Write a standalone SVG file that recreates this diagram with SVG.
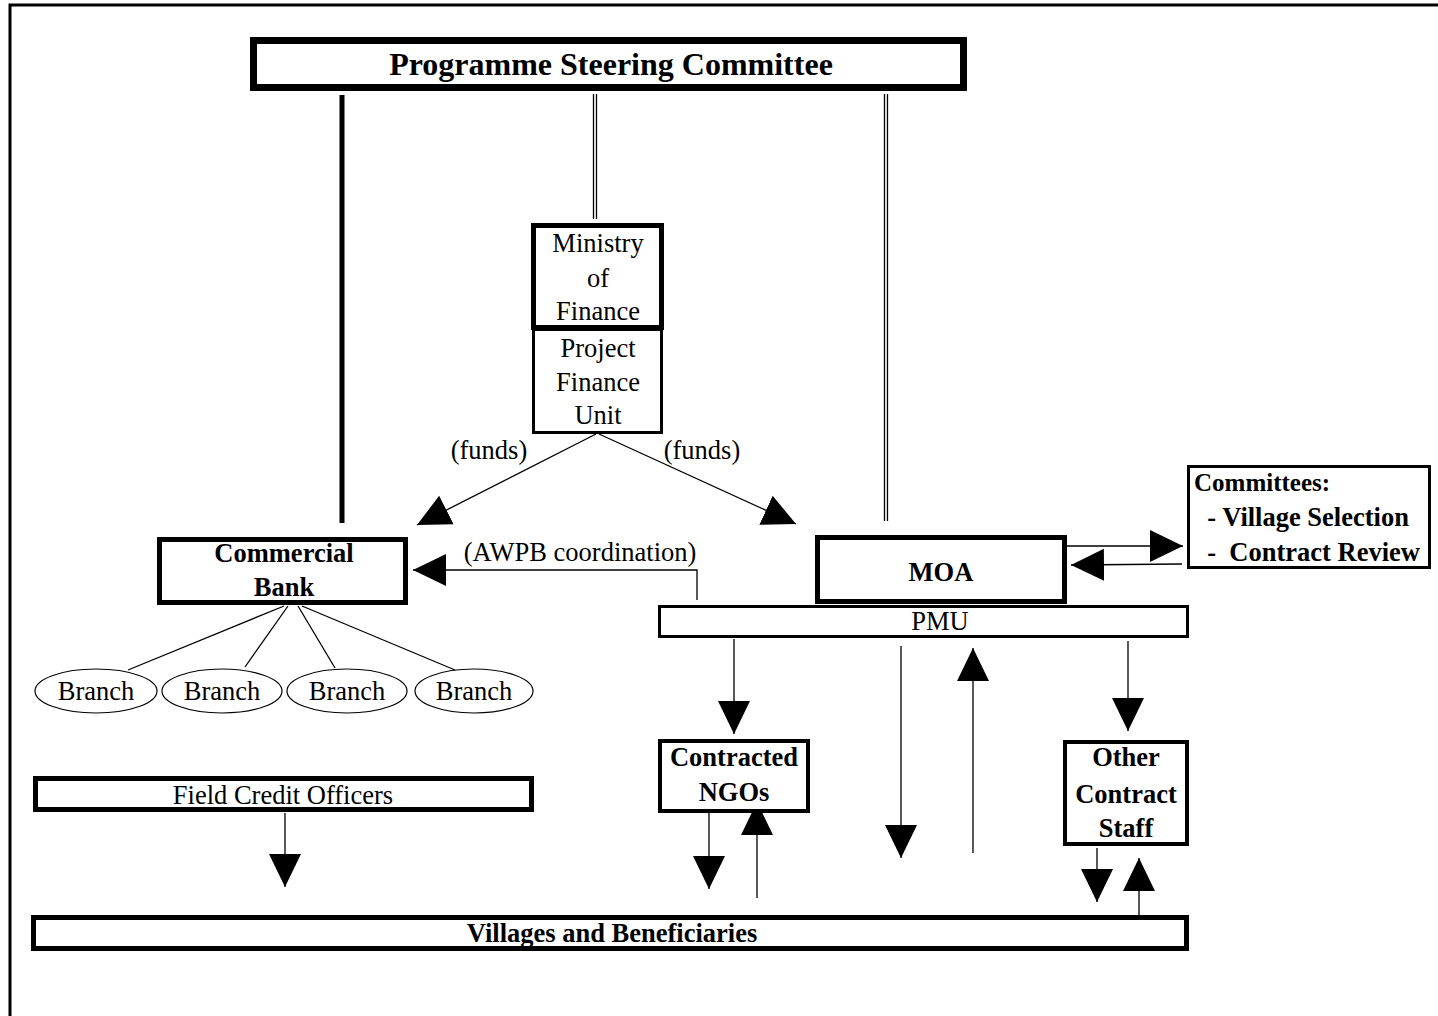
<svg xmlns="http://www.w3.org/2000/svg" width="1438" height="1016" viewBox="0 0 1438 1016">
<defs>
<style>
text{font-family:"Liberation Serif","Times New Roman",serif;fill:#000;font-size:26.5px}
.b{font-weight:bold}
.box{fill:#fff;stroke:#000}
.thick{stroke-width:5}
.med{stroke-width:3}
.ln{stroke:#000;stroke-width:1.3;fill:none}
.ar{stroke:#000;stroke-width:1.3;fill:none;marker-end:url(#ah)}
</style>
<marker id="ah" markerUnits="userSpaceOnUse" markerWidth="34" markerHeight="34" refX="33" refY="16" orient="auto" viewBox="0 0 34 32">
<path d="M0,0 L33,16 L0,32 z" fill="#000"/>
</marker>
</defs>
<rect width="1438" height="1016" fill="#fff"/>
<g id="frame"><path d="M10,1016 V5 H1438" fill="none" stroke="#000" stroke-width="3"/></g>

<g id="connectors">
<line x1="342" y1="95" x2="342" y2="523" stroke="#000" stroke-width="5"/>
<line x1="593.5" y1="94" x2="593.5" y2="219" class="ln" stroke-width="1"/>
<line x1="596.5" y1="94" x2="596.5" y2="219" class="ln" stroke-width="1"/>
<line x1="884.5" y1="94" x2="884.5" y2="521" class="ln" stroke-width="1"/>
<line x1="887.5" y1="94" x2="887.5" y2="521" class="ln" stroke-width="1"/>
<line x1="596" y1="434" x2="417" y2="525" class="ar"/>
<line x1="599" y1="434" x2="796" y2="524" class="ar"/>
<polyline points="697,600 697,570 413,570" class="ar"/>
<line x1="1066" y1="546" x2="1183" y2="546" class="ar"/>
<line x1="1182" y1="564" x2="1071" y2="565" class="ar"/>
<line x1="284" y1="606" x2="128" y2="670" class="ln"/>
<line x1="288" y1="606" x2="245" y2="667" class="ln"/>
<line x1="298" y1="606" x2="335" y2="668" class="ln"/>
<line x1="302" y1="606" x2="455" y2="670" class="ln"/>
<line x1="734" y1="639" x2="734" y2="734" class="ar"/>
<line x1="901" y1="646" x2="901" y2="858" class="ar"/>
<line x1="973" y1="853" x2="973" y2="648" class="ar"/>
<line x1="1128" y1="641" x2="1128" y2="731" class="ar"/>
<line x1="285" y1="813" x2="285" y2="887" class="ar"/>
<line x1="709" y1="813" x2="709" y2="889" class="ar"/>
<line x1="757" y1="898" x2="757" y2="802" class="ar"/>
<line x1="1097" y1="848" x2="1097" y2="902" class="ar"/>
<line x1="1139" y1="915" x2="1139" y2="858" class="ar"/>
</g>

<g id="psc">
<rect x="253.5" y="40.5" width="710" height="47" class="box" stroke-width="7"/>
<text x="611" y="75" style="font-size:32px" class="b" text-anchor="middle">Programme  Steering Committee</text>
</g>

<g id="mof">
<rect x="533.5" y="225.5" width="128" height="102" class="box thick"/>
<text x="598" y="252" text-anchor="middle">Ministry</text>
<text x="598" y="287" text-anchor="middle">of</text>
<text x="598" y="320" text-anchor="middle">Finance</text>
</g>

<g id="pfu">
<rect x="533.5" y="329.5" width="128" height="103" class="box med"/>
<text x="598" y="357" text-anchor="middle">Project</text>
<text x="598" y="391" text-anchor="middle">Finance</text>
<text x="598" y="424" text-anchor="middle">Unit</text>
</g>

<g id="labels">
<text x="489" y="459" text-anchor="middle">(funds)</text>
<text x="702" y="459" text-anchor="middle">(funds)</text>
<text x="580" y="561" text-anchor="middle">(AWPB coordination)</text>
</g>

<g id="bank">
<rect x="159.5" y="539.5" width="246" height="63" class="box thick"/>
<text x="284" y="562" class="b" text-anchor="middle">Commercial</text>
<text x="284" y="596" class="b" text-anchor="middle">Bank</text>
</g>

<g id="branch1"><ellipse cx="96" cy="691" rx="61" ry="22" class="box" stroke-width="1.2"/><text x="96" y="700" text-anchor="middle">Branch</text></g>
<g id="branch2"><ellipse cx="222" cy="691" rx="60" ry="22" class="box" stroke-width="1.2"/><text x="222" y="700" text-anchor="middle">Branch</text></g>
<g id="branch3"><ellipse cx="347" cy="691" rx="60" ry="22" class="box" stroke-width="1.2"/><text x="347" y="700" text-anchor="middle">Branch</text></g>
<g id="branch4"><ellipse cx="474" cy="691" rx="59" ry="22" class="box" stroke-width="1.2"/><text x="474" y="700" text-anchor="middle">Branch</text></g>

<g id="moa">
<rect x="817.5" y="537.5" width="247" height="64" class="box thick"/>
<text x="941" y="581" class="b" text-anchor="middle">MOA</text>
</g>

<g id="committees">
<rect x="1188.5" y="466.5" width="241" height="101" class="box med"/>
<text x="1194" y="491" style="font-size:25px" class="b">Committees:</text>
<text x="1194" y="526" class="b" xml:space="preserve">  - Village Selection</text>
<text x="1194" y="561" class="b" xml:space="preserve">  -  Contract Review</text>
</g>

<g id="pmu">
<rect x="659.5" y="606.5" width="528" height="30" class="box med"/>
<text x="940" y="630" text-anchor="middle">PMU</text>
</g>

<g id="ngos">
<rect x="660" y="741" width="148" height="70" class="box" stroke-width="4"/>
<text x="734" y="766" class="b" text-anchor="middle">Contracted</text>
<text x="734" y="801" class="b" text-anchor="middle">NGOs</text>
</g>

<g id="other">
<rect x="1065" y="742" width="122" height="102" class="box" stroke-width="4"/>
<text x="1126" y="766" class="b" text-anchor="middle">Other</text>
<text x="1126" y="803" class="b" text-anchor="middle">Contract</text>
<text x="1126" y="837" class="b" text-anchor="middle">Staff</text>
</g>

<g id="fco">
<rect x="35.5" y="778.5" width="496" height="31" class="box thick"/>
<text x="283" y="804" text-anchor="middle">Field Credit Officers</text>
</g>

<g id="villages">
<rect x="33.5" y="917.5" width="1153" height="31" class="box thick"/>
<text x="612" y="942" class="b" text-anchor="middle">Villages and Beneficiaries</text>
</g>
</svg>
